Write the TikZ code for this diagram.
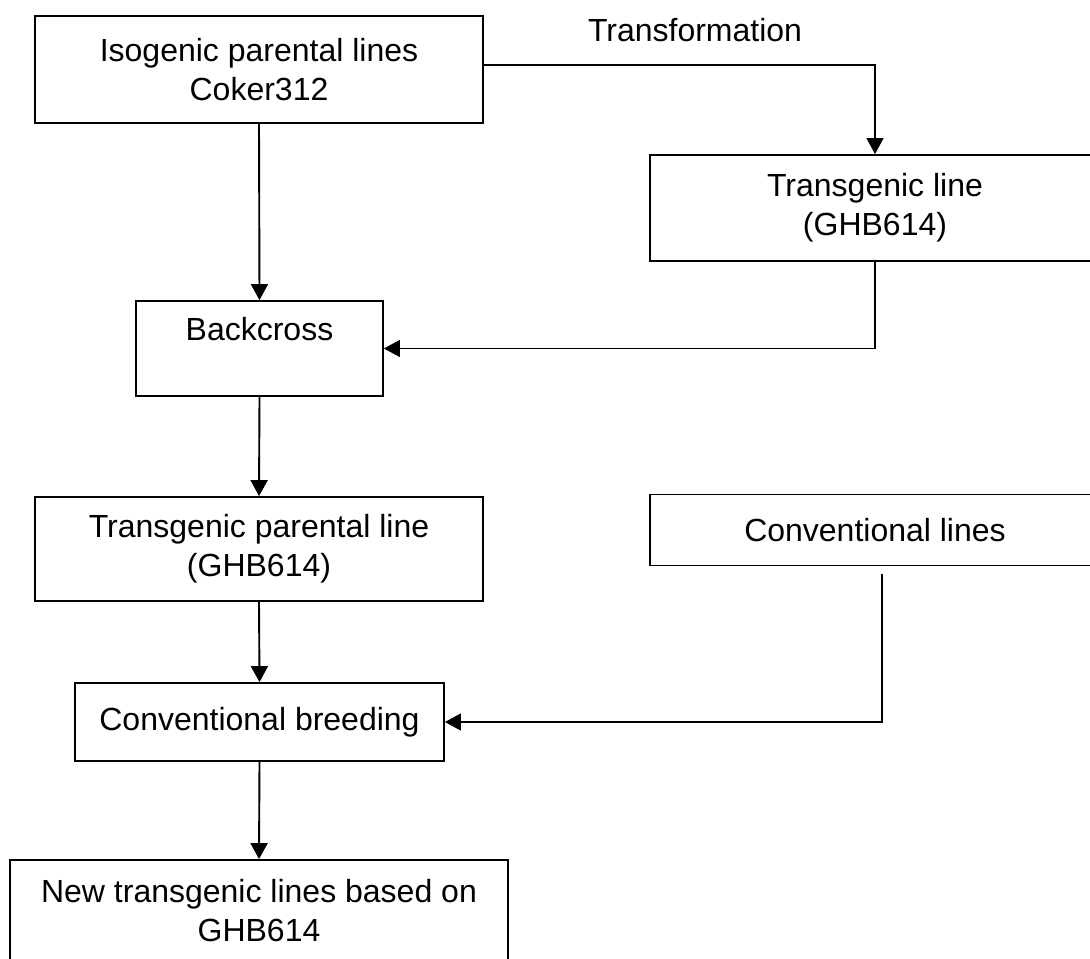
\documentclass[tikz,border=0pt]{standalone}
\usepackage{fontspec}
\setmainfont{Liberation Sans}
\usetikzlibrary{arrows.meta, positioning}

\begin{document}
\begin{tikzpicture}[x=0.5pt, y=-0.5pt, every node/.style={font=\fontsize{16}{19.5}\selectfont, align=center},
    box/.style={rectangle, draw, line width=0.9pt, inner sep=0pt},
    arr/.style={-{Triangle[width=8.5pt,length=8pt]}, line width=0.95pt},
    sidearr/.style={-{Triangle[width=8.5pt,length=8pt]}, line width=0.6pt}]
    \useasboundingbox (0,0) rectangle (1090,958);
    \clip (0,0) rectangle (1090,958);
    \node[box, minimum width=224pt, minimum height=53.5pt] (iso) at (259,69.5) {Isogenic parental lines\\Coker312};
    \node[box, minimum width=225pt, minimum height=53pt] (tg) at (875,208) {Transgenic line\\(GHB614)};
    \node[box, minimum width=123.5pt, minimum height=47.5pt] (bc) at (259.5,348.5) {Backcross\\~};
    \node[box, minimum width=224pt, minimum height=52pt] (tpl) at (259,549) {Transgenic parental line\\(GHB614)};
    \node[box, minimum width=225pt, minimum height=35.5pt] (conv) at (875,530) {Conventional lines};
    \node[box, minimum width=184.5pt, minimum height=39pt] (cb) at (259.5,722) {Conventional breeding};
    \node[box, minimum width=249pt, minimum height=70pt] (newl) at (259,930) {New transgenic lines based on\\GHB614\\~};
    \node (trans) at (695,30) {Transformation};
    \coordinate (cl) at (882,574);
    \draw[sidearr] ([yshift=2.25pt]iso.east) -| (tg.north);
    \draw[arr] (iso.south) -- (bc.north);
    \draw[sidearr] (tg.south) |- (bc.east);
    \draw[arr] (bc.south) -- (tpl.north);
    \draw[arr] (tpl.south) -- (cb.north);
    \draw[sidearr] (cl) |- (cb.east);
    \draw[arr] (cb.south) -- (newl.north);
\end{tikzpicture}
\end{document}
